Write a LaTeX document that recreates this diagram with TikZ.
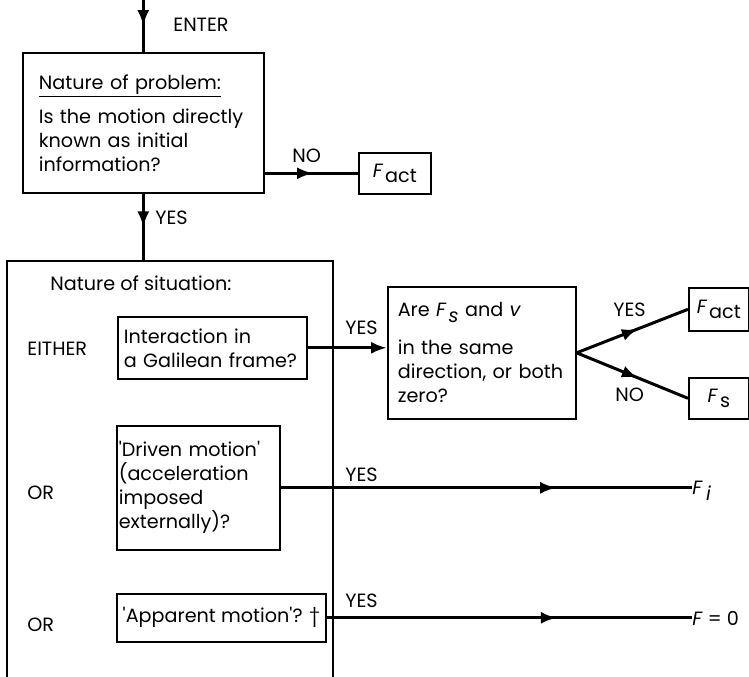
\documentclass[tikz,border=0pt]{standalone}
\usepackage{fontspec}
\setmainfont{Poppins}
\usetikzlibrary{arrows.meta}
\usetikzlibrary{decorations.markings}

\newcommand\Fsub[1]{\textit{F}\kern1pt\raisebox{-0.5ex}{#1}}

\begin{document}
\begin{tikzpicture}[x=0.5pt,y=-0.5pt,font=\fontsize{9.6}{12}\selectfont,
    box/.style={draw,line width=0.8pt,anchor=north west,inner ysep=0pt,align=left},
    flow/.style={line width=1.5pt},
    midarrow/.style={flow,postaction={decorate},decoration={markings,
      mark=at position #1 with {\arrow{Latex[length=8pt,width=6pt]}}}},
    lbl/.style={anchor=west,inner sep=0pt}]
    \useasboundingbox (0,0) rectangle (749,676);
    \node[box,minimum width=120.5pt,minimum height=70pt,inner xsep=8pt,text width=104.5pt] (problem) at (22,52)
      {\underline{Nature of problem:}\\[5pt]Is the motion directly\\known as initial\\information?};
    \node[box,minimum width=36pt,minimum height=20.5pt,align=center] (factA) at (358,152) {\Fsub{act}};
    \node[lbl] (enter) at (173,25) {ENTER};
    \node[lbl] (yesA) at (155,218) {YES};
    \node[lbl] (noA) at (292,156) {NO};
    \coordinate (entry) at (problem.north |- 0,0);
    \coordinate (sit) at (problem.south |- 0,261);
    \draw[midarrow=0.5] (entry) -- (problem.north);
    \draw[midarrow=0.52] (problem.east |- factA.west) -- (factA.west);
    \draw[midarrow=0.5] (problem.south) -- (sit);
    \draw[line width=0.8pt] (7,680) |- (333,261) -- (333,680);
    \node[lbl] (situation) at (50,283) {Nature of situation:};
    \node[lbl] (either) at (27,349) {EITHER};
    \node[lbl] (orA) at (27,493) {OR};
    \node[lbl] (orB) at (27,625) {OR};
    \node[box,minimum width=94.5pt,minimum height=31pt,inner xsep=3pt,text width=88.5pt] (inter) at (117,316)
      {Interaction in\\a Galilean frame?};
    \node[box,minimum width=94pt,minimum height=66pt,inner xsep=5pt,text width=84pt] (are) at (387,286)
      {Are \Fsub{\textit{s}} and \textit{v}\\[7pt]in the same\\direction, or both\\zero?};
    \node[box,minimum width=30pt,minimum height=21.5pt,align=center] (factB) at (688,287) {\Fsub{act}};
    \node[box,minimum width=30pt,minimum height=20.5pt,align=center] (fs) at (688,377) {\Fsub{s}};
    \node[box,minimum width=81.5pt,minimum height=62pt,inner xsep=1pt,text width=79.5pt] (driven) at (116,425)
      {\textquotesingle Driven motion\textquotesingle\\(acceleration\\imposed\\externally)?};
    \node[box,minimum width=104.5pt,minimum height=24pt,inner xsep=2pt] (apparent) at (116,593)
      {\textquotesingle Apparent motion\textquotesingle? †};
    \node[lbl] (fi) at (692,491) {\textit{F}\,\raisebox{-0.6ex}{\textit{i}}};
    \node[lbl] (fzero) at (692,618) {\textit{F} = 0};
    \node[lbl] (yesB) at (345,328) {YES};
    \node[lbl] (yesC) at (613,310) {YES};
    \node[lbl] (noB) at (615,395) {NO};
    \node[lbl] (yesD) at (345,475) {YES};
    \node[lbl] (yesE) at (345,601) {YES};
    \draw[flow,-{Latex[length=8pt,width=6pt]}] (inter.east) -- (inter.east -| are.west);
    \draw[midarrow=0.55] (are.east) -- (factB.west);
    \draw[midarrow=0.55] (are.east) -- (fs.west);
    \draw[midarrow=0.67] (driven.east) -- (driven.east -| fi.west);
    \draw[midarrow=0.63] (apparent.east) -- (apparent.east -| fzero.west);
\end{tikzpicture}
\end{document}
